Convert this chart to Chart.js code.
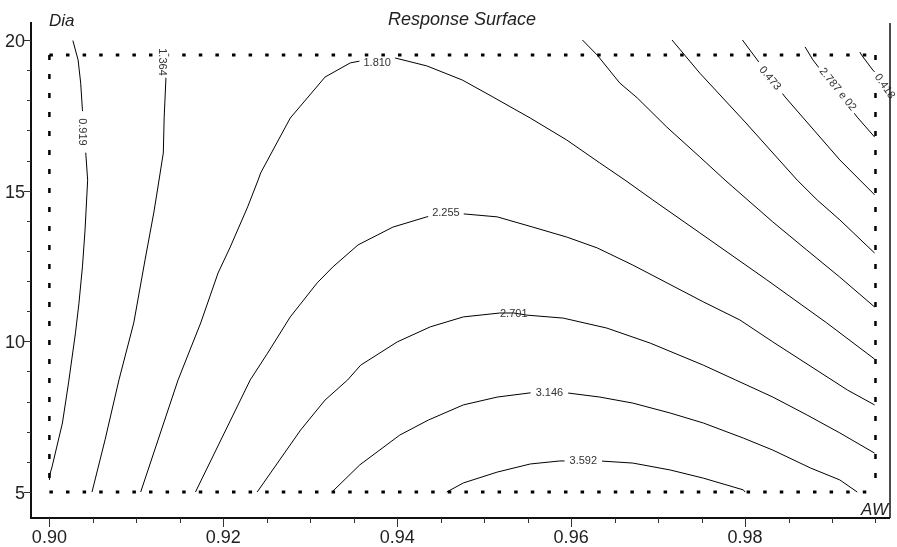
<!DOCTYPE html>
<html>
<head>
<meta charset="utf-8">
<title>Response Surface</title>
<script src="https://cdn.jsdelivr.net/npm/chart.js@4.4.0/dist/chart.umd.min.js"></script>
<style>
  html, body { margin: 0; padding: 0; background: #fff; }
  #rs-wrap { width: 897px; height: 547px; }
</style>
</head>
<body>
<div id="rs-wrap"><canvas id="rs-chart" width="897" height="547"></canvas></div>
<script>
// ===== AXES =====
const X_MIN = 0.898, X_MAX = 0.99667;
const Y_MIN = 4.137, Y_MAX = 20.597;
const xTicks = [0.90, 0.92, 0.94, 0.96, 0.98];
const xTickLabels = ['0.90', '0.92', '0.94', '0.96', '0.98'];
const yTicks = [5, 10, 15, 20];
const yTickLabels = ['5', '10', '15', '20'];

// dotted design region
const boxX = [0.90, 0.995];
const boxY = [5, 19.5];

// ===== CONTOURS (AW, Dia) =====
// left branches
const a0919_x = [0.9027, 0.9033, 0.9036, 0.9038, 0.9042, 0.9044, 0.9041, 0.9038, 0.9034, 0.9030, 0.9022, 0.9015, 0.9003, 0.9001, 0.9000];
const a0919_y = [19.98, 19.34, 18.57, 17.68, 16.18, 15.35, 13.69, 12.47, 11.27, 10.28, 8.62, 7.29, 5.83, 5.63, 5.40];

const a1364_x = [0.9131, 0.9134, 0.9132, 0.9131, 0.9123, 0.9120, 0.9110, 0.9097, 0.9080, 0.9064, 0.9049];
const a1364_y = [19.34, 18.71, 17.44, 16.25, 14.79, 14.26, 12.70, 10.61, 8.72, 6.73, 5.00];

const a1810_x = [0.9105, 0.9148, 0.9174, 0.9194, 0.9208, 0.9228, 0.9240, 0.9243, 0.9277, 0.9317, 0.9346, 0.9375, 0.9398, 0.9434, 0.9475, 0.9510, 0.9553, 0.9595, 0.9633, 0.9662, 0.9694, 0.9748, 0.9825, 0.9894, 0.9949];
const a1810_y = [5.00, 8.72, 10.61, 12.27, 13.13, 14.46, 15.35, 15.59, 17.41, 18.77, 19.24, 19.40, 19.40, 19.14, 18.67, 18.11, 17.41, 16.68, 15.92, 15.35, 14.69, 13.60, 12.04, 10.61, 9.41];

const a2255_x = [0.9168, 0.9231, 0.9251, 0.9277, 0.9308, 0.9326, 0.9355, 0.9395, 0.9434, 0.9456, 0.9476, 0.9515, 0.9556, 0.9595, 0.9630, 0.9671, 0.9752, 0.9794, 0.9832, 0.9918, 0.9949];
const a2255_y = [5.00, 8.72, 9.61, 10.81, 11.94, 12.47, 13.20, 13.79, 14.13, 14.26, 14.23, 14.13, 13.79, 13.46, 13.10, 12.53, 11.31, 10.71, 9.98, 8.38, 7.89];

const a2701_x = [0.9239, 0.9289, 0.9317, 0.9343, 0.9358, 0.9400, 0.9438, 0.9476, 0.9518, 0.9534, 0.9549, 0.9591, 0.9641, 0.9691, 0.9752, 0.9789, 0.9832, 0.9871, 0.9909, 0.9949];
const a2701_y = [5.00, 7.06, 8.05, 8.72, 9.21, 9.98, 10.48, 10.81, 10.94, 10.94, 10.87, 10.77, 10.44, 9.94, 9.21, 8.72, 8.15, 7.56, 6.96, 6.29];

const a3146_x = [0.9325, 0.9357, 0.9403, 0.9436, 0.9476, 0.9515, 0.9553, 0.9575, 0.9595, 0.9633, 0.9671, 0.9714, 0.9752, 0.9798, 0.9832, 0.9875, 0.9909, 0.9929];
const a3146_y = [5.00, 5.90, 6.89, 7.39, 7.89, 8.15, 8.29, 8.29, 8.29, 8.15, 7.95, 7.62, 7.29, 6.79, 6.39, 5.80, 5.40, 5.00];

const a3592_x = [0.9457, 0.9476, 0.9515, 0.9553, 0.9587, 0.9614, 0.9633, 0.9671, 0.9714, 0.9752, 0.9798, 0.9800];
const a3592_y = [5.00, 5.30, 5.66, 5.93, 6.03, 6.03, 6.03, 5.96, 5.73, 5.46, 5.07, 5.00];

// right (top-right) branches
const b1364_x = [0.9613, 0.9630, 0.9656, 0.9676, 0.9710, 0.9748, 0.9777, 0.9832, 0.9871, 0.9909, 0.9949];
const b1364_y = [20.00, 19.50, 18.57, 18.08, 17.11, 16.12, 15.35, 13.96, 13.03, 12.13, 11.14];

const b0919_x = [0.9716, 0.9748, 0.9800, 0.9860, 0.9883, 0.9909, 0.9949];
const b0919_y = [20.00, 18.90, 17.28, 15.35, 14.69, 14.03, 12.93];

const b0473_x = [0.9797, 0.9814, 0.9846, 0.9909, 0.9947, 0.9949];
const b0473_y = [20.00, 19.34, 18.11, 16.02, 14.92, 14.86];

const b0028_x = [0.9869, 0.9878, 0.9929, 0.9949];
const b0028_y = [19.77, 19.34, 17.44, 16.78];

const b0418_x = [0.9932, 0.9934, 0.9947, 0.9949];
const b0418_y = [19.60, 19.50, 19.00, 18.94];

// ===== CONTOUR LABELS =====
const labelText  = ['0.919', '1.364', '1.810', '2.255', '2.701', '3.146', '3.592', '0.473', '2.787 e 02', '0.418'];
const labelX     = [0.9038, 0.9130, 0.9377, 0.9456, 0.9534, 0.9575, 0.9614, 0.9829, 0.9907, 0.9961];
const labelY     = [16.95, 19.27, 19.24, 14.26, 10.91, 8.29, 6.03, 18.74, 18.37, 18.47];
const labelAngle = [90, 90, 0, 0, 0, 0, 0, 50, 51, 55];
const labelGap   = [7, 2, 4, 4, 0, 5, 5, 6, 3, 3];

const contours = [
  [a0919_x, a0919_y], [a1364_x, a1364_y], [a1810_x, a1810_y], [a2255_x, a2255_y],
  [a2701_x, a2701_y], [a3146_x, a3146_y], [a3592_x, a3592_y],
  [b1364_x, b1364_y], [b0919_x, b0919_y], [b0473_x, b0473_y], [b0028_x, b0028_y], [b0418_x, b0418_y]
];

const toPts = (xs, ys) => xs.map((v, i) => ({ x: v, y: ys[i] }));

const datasets = contours.map(([xs, ys]) => ({
  data: toPts(xs, ys),
  showLine: true,
  borderColor: '#000',
  borderWidth: 1,
  pointRadius: 0,
  tension: 0
}));

// dotted rectangle: horizontal and vertical sides use slightly different dot spacing
const dotH = { showLine: true, borderColor: '#000', borderWidth: 3, borderDash: [3.5, 13.1], pointRadius: 0, borderCapStyle: 'butt' };
const dotV = { showLine: true, borderColor: '#000', borderWidth: 2.5, borderDash: [5, 14], pointRadius: 0, borderCapStyle: 'butt' };
datasets.push({ ...dotH, data: toPts(boxX, [boxY[1], boxY[1]]) });
datasets.push({ ...dotH, data: toPts(boxX, [boxY[0], boxY[0]]) });
datasets.push({ ...dotV, data: toPts([boxX[0], boxX[0]], [boxY[1], boxY[0]]) });
datasets.push({ ...dotV, data: toPts([boxX[1], boxX[1]], [boxY[1], boxY[0]]) });

const FONT = '"Liberation Sans", Arial, Helvetica, sans-serif';

// ===== FRAME, TICKS, LABELS =====
const framePlugin = {
  id: 'rsFrame',
  afterDatasetsDraw(chart) {
    const { ctx, chartArea: a, scales: { x, y } } = chart;
    ctx.save();

    // contour labels (white gap behind, except 2.701 which sits on its line)
    ctx.font = '11px ' + FONT;
    ctx.textAlign = 'center';
    ctx.textBaseline = 'middle';
    labelText.forEach((t, i) => {
      const px = x.getPixelForValue(labelX[i]);
      const py = y.getPixelForValue(labelY[i]);
      ctx.save();
      ctx.translate(px, py);
      ctx.rotate(labelAngle[i] * Math.PI / 180);
      const w = ctx.measureText(t).width;
      const pad = labelGap[i];
      if (pad > 0) {
        ctx.fillStyle = '#fff';
        ctx.fillRect(-w / 2 - pad, -6, w + pad * 2, 12);
      }
      ctx.fillStyle = '#333';
      ctx.fillText(t, 0, 0.5);
      ctx.restore();
    });

    // axis lines
    const left = a.left - 1;
    ctx.strokeStyle = '#111';
    ctx.lineWidth = 2;
    ctx.beginPath();
    ctx.moveTo(left, a.top);
    ctx.lineTo(left, a.bottom);
    ctx.lineTo(a.right, a.bottom);
    ctx.stroke();
    ctx.lineWidth = 1.5;
    ctx.beginPath();
    ctx.moveTo(a.right, a.top + 1);
    ctx.lineTo(a.right, a.bottom);
    ctx.stroke();

    // x ticks
    ctx.lineWidth = 1;
    ctx.strokeStyle = '#333';
    for (let v = 0.900; v < 0.9951; v += 0.005) {
      const px = Math.round(x.getPixelForValue(v)) + 0.5;
      const major = xTicks.some(t => Math.abs(t - v) < 1e-6);
      ctx.beginPath();
      ctx.moveTo(px, a.bottom);
      ctx.lineTo(px, a.bottom + (major ? 9 : 5));
      ctx.stroke();
    }
    // y ticks
    for (let v = 5; v <= 20; v += 1) {
      const py = Math.round(y.getPixelForValue(v)) + 0.5;
      const major = yTicks.includes(v);
      ctx.beginPath();
      ctx.moveTo(left, py);
      ctx.lineTo(left - (major ? 7 : 4), py);
      ctx.stroke();
    }

    // tick labels
    ctx.fillStyle = '#222';
    ctx.font = '18px ' + FONT;
    ctx.textBaseline = 'alphabetic';
    ctx.textAlign = 'center';
    xTicks.forEach((v, i) => {
      ctx.fillText(xTickLabels[i], x.getPixelForValue(v), a.bottom + 25);
    });
    ctx.textAlign = 'right';
    yTicks.forEach((v, i) => {
      ctx.fillText(yTickLabels[i], left - 6, y.getPixelForValue(v) + 7);
    });

    // titles
    ctx.font = 'italic 18px ' + FONT;
    ctx.textAlign = 'center';
    ctx.fillText('Response Surface', 462, 25);
    ctx.font = 'italic 17px ' + FONT;
    ctx.textAlign = 'left';
    ctx.fillText('Dia', 49, 26);
    ctx.textAlign = 'right';
    ctx.fillText('AW', a.right - 2, a.bottom - 3);

    ctx.restore();
  }
};

new Chart(document.getElementById('rs-chart'), {
  type: 'scatter',
  data: { datasets },
  options: {
    responsive: false,
    animation: false,
    layout: { padding: { left: 32, right: 7, top: 22, bottom: 29 } },
    plugins: { legend: { display: false }, tooltip: { enabled: false } },
    scales: {
      x: { type: 'linear', min: X_MIN, max: X_MAX, display: false },
      y: { type: 'linear', min: Y_MIN, max: Y_MAX, display: false }
    }
  },
  plugins: [framePlugin]
});
</script>
</body>
</html>
